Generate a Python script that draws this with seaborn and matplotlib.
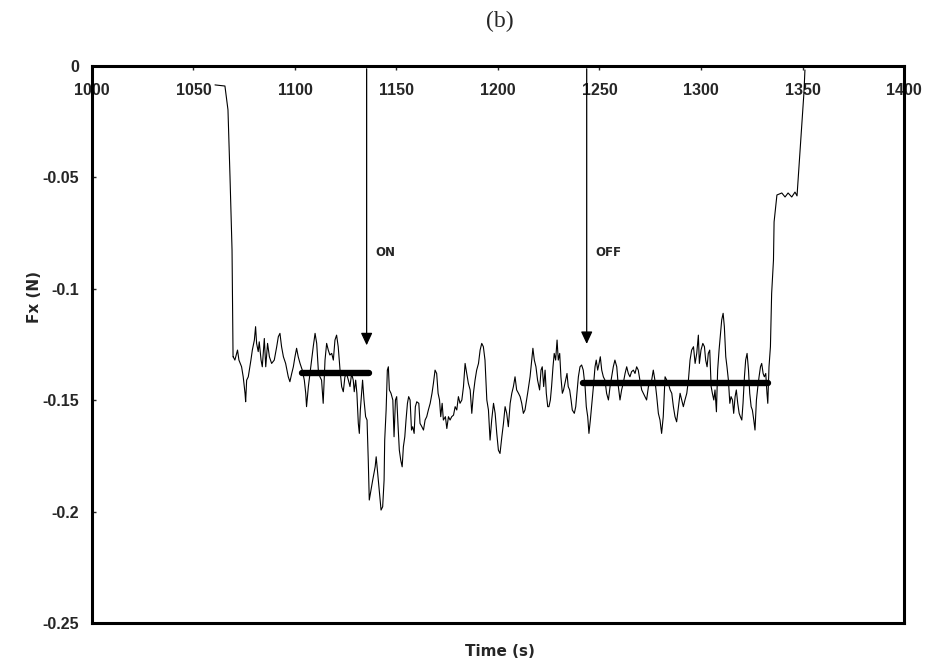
import numpy as np
import pandas as pd
import seaborn as sns
import matplotlib
matplotlib.use('Agg')
import matplotlib.pyplot as plt

# ----------- DATA -----------
# time (s), Fx (N)
start_drop = [(1060.6, -0.0085), (1065.5, -0.0090), (1067.0, -0.0197), (1068.0, -0.0498),
              (1069.0, -0.0826), (1069.5, -0.1306)]

before_on = [(1069.6, -0.1305), (1070.4, -0.1320), (1071.7, -0.1275), (1072.4, -0.1320), (1073.7, -0.1350),
             (1074.5, -0.1395), (1075.4, -0.1469), (1075.7, -0.1507), (1076.2, -0.1410), (1077.0, -0.1395),
             (1078.3, -0.1320), (1079.0, -0.1275), (1080.0, -0.1230), (1080.6, -0.1170), (1081.1, -0.1245),
             (1081.9, -0.1282), (1082.4, -0.1238), (1083.3, -0.1320), (1083.9, -0.1350), (1084.9, -0.1223),
             (1085.6, -0.1350), (1086.5, -0.1245), (1087.4, -0.1305), (1088.5, -0.1335), (1089.8, -0.1320),
             (1091.0, -0.1260), (1091.8, -0.1215), (1092.6, -0.1200), (1093.4, -0.1260), (1094.3, -0.1305),
             (1095.4, -0.1335), (1096.7, -0.1395), (1097.5, -0.1417), (1098.4, -0.1380), (1099.2, -0.1350),
             (1100.0, -0.1305), (1100.8, -0.1267), (1101.6, -0.1305), (1102.5, -0.1335), (1103.6, -0.1365),
             (1104.6, -0.1410), (1105.3, -0.1469), (1105.7, -0.1529), (1106.6, -0.1439), (1107.4, -0.1380),
             (1108.2, -0.1320), (1109.0, -0.1260), (1109.9, -0.1200), (1110.7, -0.1245), (1111.5, -0.1365),
             (1112.3, -0.1395), (1113.1, -0.1410), (1113.9, -0.1514), (1114.8, -0.1320), (1115.6, -0.1245),
             (1116.4, -0.1275), (1117.2, -0.1297), (1118.1, -0.1290), (1118.9, -0.1320), (1119.7, -0.1230),
             (1120.5, -0.1208), (1121.3, -0.1260), (1122.2, -0.1365), (1123.0, -0.1439), (1123.8, -0.1462),
             (1124.6, -0.1395), (1125.4, -0.1380), (1126.3, -0.1410), (1127.1, -0.1439), (1127.9, -0.1380),
             (1128.7, -0.1410), (1129.2, -0.1462), (1129.9, -0.1410), (1130.5, -0.1469), (1131.2, -0.1604),
             (1131.7, -0.1649), (1132.2, -0.1544), (1132.8, -0.1469), (1133.3, -0.1410), (1134.0, -0.1499),
             (1134.8, -0.1574), (1135.5, -0.1589), (1136.1, -0.1769), (1136.6, -0.1948)]

during_on = [(1138.3, -0.1858), (1139.5, -0.1799), (1140.0, -0.1754), (1140.6, -0.1814), (1141.6, -0.1918),
             (1142.4, -0.1993), (1143.2, -0.1978), (1143.9, -0.1858), (1144.2, -0.1679), (1144.9, -0.1544),
             (1145.5, -0.1365), (1146.0, -0.1350), (1146.5, -0.1454), (1147.3, -0.1469), (1148.2, -0.1499),
             (1148.8, -0.1664), (1149.5, -0.1499), (1150.1, -0.1484), (1150.8, -0.1619), (1151.4, -0.1724),
             (1152.1, -0.1769), (1152.8, -0.1799), (1153.4, -0.1709), (1154.1, -0.1664), (1154.7, -0.1589),
             (1155.4, -0.1514), (1156.0, -0.1484), (1156.7, -0.1499), (1157.4, -0.1634), (1158.0, -0.1619),
             (1158.7, -0.1649), (1159.3, -0.1529), (1160.0, -0.1507), (1161.0, -0.1514), (1161.6, -0.1604),
             (1162.5, -0.1619), (1163.3, -0.1634), (1164.1, -0.1589), (1164.9, -0.1574), (1165.7, -0.1544),
             (1166.6, -0.1514), (1167.5, -0.1469), (1168.2, -0.1424), (1169.0, -0.1365), (1169.8, -0.1380),
             (1170.5, -0.1469), (1171.2, -0.1499), (1171.8, -0.1574), (1172.5, -0.1514), (1173.1, -0.1589),
             (1174.1, -0.1574), (1174.8, -0.1627), (1175.6, -0.1574), (1176.4, -0.1589), (1177.2, -0.1574),
             (1178.1, -0.1567), (1178.9, -0.1529), (1179.7, -0.1544), (1180.5, -0.1484), (1181.3, -0.1514),
             (1182.2, -0.1499), (1183.0, -0.1439), (1183.8, -0.1335), (1184.6, -0.1380), (1185.4, -0.1424),
             (1186.3, -0.1454), (1187.1, -0.1559), (1187.9, -0.1469), (1188.7, -0.1410), (1189.5, -0.1365),
             (1190.4, -0.1335), (1191.2, -0.1275), (1192.0, -0.1245), (1192.8, -0.1260), (1193.6, -0.1320),
             (1194.5, -0.1499), (1195.3, -0.1544), (1196.1, -0.1679), (1196.9, -0.1589), (1197.8, -0.1514),
             (1198.6, -0.1559), (1199.4, -0.1649), (1200.2, -0.1724), (1201.0, -0.1739), (1201.9, -0.1664),
             (1202.7, -0.1604), (1203.5, -0.1529), (1204.3, -0.1559), (1205.1, -0.1619), (1206.0, -0.1514),
             (1206.8, -0.1469), (1207.6, -0.1439), (1208.4, -0.1395), (1209.2, -0.1454), (1210.1, -0.1469),
             (1210.9, -0.1484), (1211.7, -0.1514), (1212.5, -0.1559)]

after_off = [(1213.3, -0.1544), (1214.6, -0.1469), (1215.8, -0.1395), (1216.6, -0.1320), (1217.2, -0.1267),
             (1217.9, -0.1320), (1218.7, -0.1350), (1219.5, -0.1410), (1220.5, -0.1454), (1221.2, -0.1365),
             (1221.8, -0.1350), (1222.5, -0.1439), (1223.2, -0.1365), (1223.8, -0.1469), (1224.5, -0.1529),
             (1225.1, -0.1529), (1225.8, -0.1499), (1226.4, -0.1439), (1227.1, -0.1350), (1227.7, -0.1290),
             (1228.4, -0.1320), (1229.1, -0.1230), (1229.7, -0.1320), (1230.4, -0.1290), (1231.0, -0.1395),
             (1231.7, -0.1469), (1232.3, -0.1454), (1233.0, -0.1424), (1234.0, -0.1380), (1234.6, -0.1439),
             (1235.3, -0.1454), (1236.0, -0.1499), (1236.6, -0.1544), (1237.6, -0.1559), (1238.3, -0.1529),
             (1238.9, -0.1469), (1239.6, -0.1395), (1240.4, -0.1350), (1241.2, -0.1342), (1242.0, -0.1365),
             (1242.9, -0.1439), (1243.5, -0.1529), (1244.2, -0.1574), (1244.8, -0.1649), (1245.5, -0.1589),
             (1246.1, -0.1529), (1247.0, -0.1439), (1247.8, -0.1350), (1248.4, -0.1320), (1249.1, -0.1365),
             (1249.8, -0.1335), (1250.4, -0.1305), (1251.1, -0.1365), (1251.9, -0.1395), (1252.7, -0.1410),
             (1253.5, -0.1469), (1254.4, -0.1499), (1255.2, -0.1439), (1256.0, -0.1395), (1256.8, -0.1350),
             (1257.6, -0.1320), (1258.5, -0.1350), (1259.3, -0.1439), (1260.1, -0.1499), (1260.9, -0.1454),
             (1261.7, -0.1424), (1262.6, -0.1380), (1263.4, -0.1350), (1264.2, -0.1380), (1265.0, -0.1395),
             (1265.8, -0.1372), (1266.7, -0.1365), (1267.5, -0.1380), (1268.3, -0.1350), (1269.1, -0.1365),
             (1269.9, -0.1410), (1270.8, -0.1454), (1271.6, -0.1469), (1272.4, -0.1484), (1273.2, -0.1499),
             (1274.1, -0.1439), (1274.9, -0.1424), (1275.7, -0.1410), (1276.5, -0.1365), (1277.3, -0.1410),
             (1278.2, -0.1484), (1279.0, -0.1559), (1279.8, -0.1589), (1280.6, -0.1649), (1281.4, -0.1574),
             (1282.3, -0.1395)]

late_off = [(1283.1, -0.1410), (1283.9, -0.1424), (1284.8, -0.1454), (1285.6, -0.1469), (1286.4, -0.1529),
            (1287.2, -0.1574), (1288.0, -0.1597), (1288.9, -0.1529), (1289.7, -0.1469), (1290.5, -0.1499),
            (1291.3, -0.1529), (1292.1, -0.1499), (1293.0, -0.1469), (1293.8, -0.1410), (1294.6, -0.1320),
            (1295.4, -0.1275), (1296.3, -0.1260), (1297.1, -0.1335), (1297.9, -0.1290), (1298.7, -0.1208),
            (1299.2, -0.1335), (1300.0, -0.1275), (1300.9, -0.1245), (1301.7, -0.1260), (1302.3, -0.1320),
            (1303.0, -0.1350), (1303.6, -0.1290), (1304.3, -0.1275), (1305.0, -0.1439), (1305.6, -0.1469),
            (1306.3, -0.1499), (1306.9, -0.1454), (1307.6, -0.1552), (1308.2, -0.1365), (1308.9, -0.1275),
            (1309.6, -0.1200), (1310.2, -0.1140), (1310.9, -0.1110), (1311.5, -0.1170), (1312.2, -0.1305),
            (1312.8, -0.1350), (1313.5, -0.1410), (1314.2, -0.1514), (1314.8, -0.1484), (1315.5, -0.1499),
            (1316.1, -0.1559), (1316.8, -0.1484), (1317.4, -0.1454), (1318.1, -0.1514), (1318.8, -0.1559),
            (1319.4, -0.1574), (1320.1, -0.1589), (1320.7, -0.1514), (1321.4, -0.1395), (1322.0, -0.1320),
            (1322.7, -0.1290), (1323.4, -0.1365), (1324.0, -0.1469), (1324.7, -0.1529), (1325.3, -0.1544),
            (1326.0, -0.1589), (1326.6, -0.1634), (1327.3, -0.1499), (1328.0, -0.1439), (1328.6, -0.1395),
            (1329.3, -0.1350), (1329.9, -0.1335), (1330.6, -0.1380), (1331.2, -0.1395), (1331.9, -0.1380),
            (1332.5, -0.1469), (1332.9, -0.1514), (1333.5, -0.1350), (1334.2, -0.1260)]

end_rise = [(1334.8, -0.1021), (1335.7, -0.0871), (1336.0, -0.0700), (1337.4, -0.0579), (1339.8, -0.0570),
            (1341.4, -0.0588), (1342.9, -0.0570), (1344.7, -0.0588), (1346.3, -0.0566), (1347.3, -0.0583),
            (1348.8, -0.0377), (1349.8, -0.0242), (1350.7, -0.0121), (1351.2, -0.0018)]

# mean force bars: (t_start, t_end, level)
mean_bars = [(1103.4, 1136.3, -0.1378), (1241.9, 1333.0, -0.1421)]

# event arrows: (time, tip level, label)
events = [(1135.3, -0.1266, 'ON'), (1243.7, -0.126, 'OFF')]
label_level = -0.0835

x_ticks = [1000, 1050, 1100, 1150, 1200, 1250, 1300, 1350, 1400]
y_ticks = [0, -0.05, -0.1, -0.15, -0.2, -0.25]
y_tick_labels = ['0', '-0.05', '-0.1', '-0.15', '-0.2', '-0.25']

# build one table for the trace
trace = start_drop + before_on + during_on + after_off + late_off + end_rise
df = pd.DataFrame(trace, columns=['time', 'fx'])

# ----------- PLOT -----------
sns.set_style('white')
plt.rcParams['font.family'] = ['Liberation Sans', 'DejaVu Sans']

fig = plt.figure(figsize=(9.27, 6.63), dpi=100)
ax = fig.add_axes([0.0992, 0.0603, 0.8760, 0.8402])

sns.lineplot(data=df, x='time', y='fx', sort=False, estimator=None, color='black', linewidth=0.8, ax=ax)

for t0, t1, lvl in mean_bars:
    ax.plot([t0, t1], [lvl, lvl], color='black', linewidth=4.6, solid_capstyle='round')

for t, tip, name in events:
    ax.annotate('', xy=(t, tip), xytext=(t, 0),
                arrowprops=dict(arrowstyle='-|>,head_length=0.75,head_width=0.35', color='black', lw=0.9))
    ax.text(t + 4.5, label_level, name, fontsize=8.5, fontweight='bold', family='DejaVu Sans',
            va='center', ha='left')

ax.set_xlim(1000, 1400)
ax.set_ylim(-0.25, 0)
ax.set_xticks(x_ticks)
ax.set_xticklabels([str(v) for v in x_ticks])
ax.set_yticks(y_ticks)
ax.set_yticklabels(y_tick_labels)

ax.tick_params(axis='x', top=True, bottom=False, labeltop=True, labelbottom=False,
               direction='in', length=3, width=1, pad=-23, labelsize=11.5)
ax.tick_params(axis='y', left=True, direction='in', length=3, width=1, pad=9, labelsize=11.5)
for lab in ax.get_xticklabels() + ax.get_yticklabels():
    lab.set_fontweight('bold')

for sp in ax.spines.values():
    sp.set_linewidth(2.2)
    sp.set_color('black')

ax.set_xlabel('Time (s)', fontsize=11, fontweight='bold', family='DejaVu Sans')
ax.set_ylabel('Fx (N)', fontsize=11, fontweight='bold', family='DejaVu Sans')
ax.xaxis.set_label_coords(0.502, -0.038)
ax.yaxis.set_label_coords(-0.062, 0.585)

fig.text(0.539, 0.968, '(b)', fontsize=17, family='Liberation Serif', ha='center', va='center')

fig.savefig('out.png', dpi=100)
